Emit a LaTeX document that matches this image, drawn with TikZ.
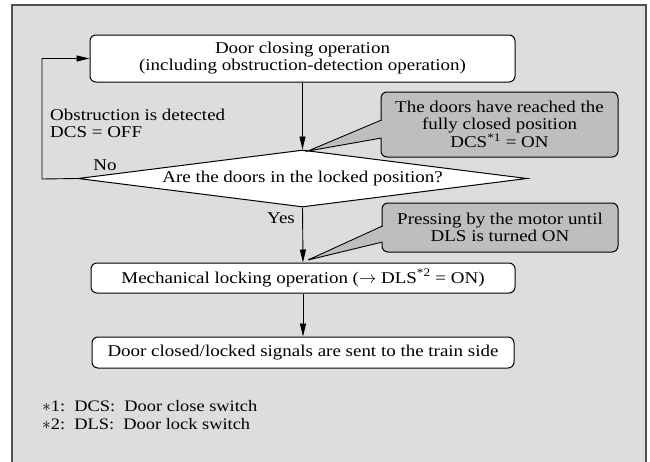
\documentclass[tikz,border=0pt]{standalone}
\usepackage{fontspec}
\setmainfont{Liberation Serif}[FakeStretch=1.15]
\usetikzlibrary{shapes.geometric,arrows.meta}
\definecolor{bgray}{RGB}{220,221,220}
\definecolor{cgray}{RGB}{190,190,190}
\definecolor{fgray}{RGB}{80,80,80}
\begin{document}
\begin{tikzpicture}[x=1pt,y=-1pt,
  font=\fontsize{16.5}{17}\selectfont,
  box/.style={draw, line width=1pt, fill=white, rounded corners=6pt, align=center, inner sep=0pt},
  callout/.style={draw, line width=1pt, fill=cgray, rounded corners=6pt, align=center, inner sep=0pt},
  flow/.style={line width=0.9pt, -{Triangle[length=13pt,width=6pt]}},
  plain/.style={inner sep=0pt, align=left},
  wedge/.style={line width=0.9pt}]
\useasboundingbox (0,0) rectangle (650,461);
\fill[bgray] (12,5) rectangle (646,480);
\draw[fgray, line width=1.5pt] (12,480) -- (12,5) -- (646,5) -- (646,480);

\node[box, minimum width=425pt, minimum height=47pt] (close) at (302.5,58.5)
  {Door closing operation\\(including obstruction-detection operation)};
\node[draw, diamond, fill=white, line width=1pt, minimum width=449pt, minimum height=57pt,
  inner sep=0pt, aspect=8] (q) at (302.5,178.5) {Are the doors in the locked position?};
\node[box, minimum width=424pt, minimum height=30pt] (lock) at (303,278)
  {Mechanical locking operation ($\rightarrow$ DLS\textsuperscript{*2} = ON)};
\node[box, minimum width=422pt, minimum height=31pt] (sent) at (303,352.5)
  {Door closed/locked signals are sent to the train side};

\node[callout, minimum width=237pt, minimum height=65pt] (c1) at (499.5,124.5)
  {The doors have reached the\\fully closed position\\DCS\textsuperscript{*1} = ON};
\node[callout, minimum width=236pt, minimum height=49pt] (c2) at (500,227.5)
  {Pressing by the motor until\\DLS is turned ON};

\draw[flow] (close.south) -- (q.north);
\draw[flow] (q.south) -- (lock.north);
\draw[flow] (lock.south) -- (sent.north);
\coordinate (lp) at (42,179);
\draw[flow] (q.west) -- (lp) |- (close.west);

\coordinate (t1) at (308,151);
\fill[cgray] (t1) -- (383.5,120) -- (383.5,138) -- cycle;
\draw[wedge] (381.5,120) -- (t1) -- (381.5,138);
\coordinate (t2) at (308,260);
\fill[cgray] (t2) -- (384.5,226) -- (384.5,242) -- cycle;
\draw[wedge] (382.5,226) -- (t2) -- (382.5,242);

\node[plain, anchor=west] (obs) at (50,123) {Obstruction is detected\\DCS = OFF};
\node[plain] (no) at (105,165) {No};
\node[plain] (yes) at (281,218) {Yes};
\node[plain, anchor=north west, font=\fontsize{16}{18}\selectfont] (fn) at (42,400)
  {$\ast$1:\ \ DCS:\ \ Door close switch\\$\ast$2:\ \ DLS:\ \ Door lock switch};
\end{tikzpicture}
\end{document}
